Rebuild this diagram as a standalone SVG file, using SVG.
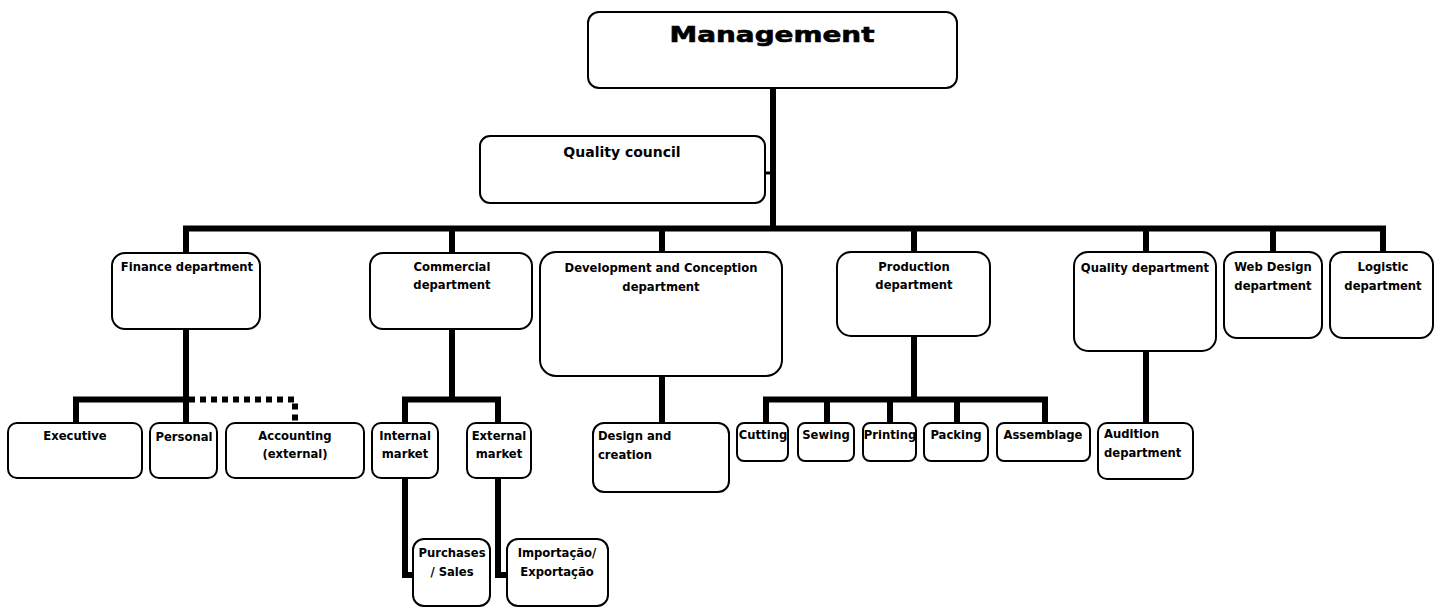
<svg xmlns="http://www.w3.org/2000/svg" width="1445" height="608" viewBox="0 0 1445 608">
<style>
.box{fill:#fff;stroke:#000;stroke-width:2}
.t{font-family:"DejaVu Sans","Liberation Sans",sans-serif;font-weight:bold;font-size:11.6px;fill:#000;text-anchor:middle}
.l{text-anchor:start}
.c{fill:none;stroke:#000;stroke-width:6;stroke-linejoin:miter;stroke-linecap:butt}
.d{fill:none;stroke:#000;stroke-width:6;stroke-dasharray:6 5}
</style>
<rect width="1445" height="608" fill="#fff"/>
<g id="connectors">
<path class="c" d="M773 88V231"/>
<path d="M765 173H773" stroke="#000" stroke-width="3"/>
<path class="c" d="M183 228.5H1386"/>
<path class="c" d="M186 226V253M452 226V253M662 226V252M914 226V252M1146 226V252M1273 226V252M1383 226V252"/>
<path class="c" d="M186 329V423M76 423V399.5H189"/>
<path class="d" d="M189 399.5H295V423"/>
<path class="c" d="M452 329V399.5M405 423V399.5H498V423"/>
<path class="c" d="M405 478V575H413M498 478V575H507"/>
<path class="c" d="M662 376V423"/>
<path class="c" d="M914 336V399.5M766 423V399.5H1045V423M827 399.5V423M890 399.5V423M957 399.5V423"/>
<path class="c" d="M1146 351V423"/>
</g>
<g id="management"><rect class="box" x="588" y="12" width="369" height="76" rx="11"/>
<text x="772" y="42" class="t" style="font-size:21px;stroke:#000;stroke-width:0.6" textLength="205" lengthAdjust="spacingAndGlyphs">Management</text></g>
<g id="quality-council"><rect class="box" x="480" y="136" width="285" height="67" rx="10"/>
<text x="622" y="157" class="t" style="font-size:14px">Quality council</text></g>
<g id="finance"><rect class="box" x="112" y="253" width="148" height="76" rx="13"/>
<text x="187" y="271" class="t">Finance department</text></g>
<g id="commercial"><rect class="box" x="370" y="253" width="162" height="76" rx="13"/>
<text x="452" y="271" class="t">Commercial</text><text x="452" y="289" class="t">department</text></g>
<g id="development"><rect class="box" x="540" y="252" width="242" height="124" rx="16"/>
<text x="661" y="272" class="t">Development and Conception</text><text x="661" y="291" class="t">department</text></g>
<g id="production"><rect class="box" x="837" y="252" width="153" height="84" rx="14"/>
<text x="914" y="271" class="t">Production</text><text x="914" y="289" class="t">department</text></g>
<g id="quality-dept"><rect class="box" x="1074" y="252" width="142" height="99" rx="14"/>
<text x="1145" y="272" class="t">Quality department</text></g>
<g id="webdesign"><rect class="box" x="1224" y="252" width="98" height="86" rx="13"/>
<text x="1273" y="271" class="t">Web Design</text><text x="1273" y="290" class="t">department</text></g>
<g id="logistic"><rect class="box" x="1330" y="252" width="103" height="86" rx="13"/>
<text x="1383" y="271" class="t">Logistic</text><text x="1383" y="290" class="t">department</text></g>
<g id="executive"><rect class="box" x="8" y="423" width="134" height="55" rx="9"/>
<text x="75" y="440" class="t">Executive</text></g>
<g id="personal"><rect class="box" x="150" y="423" width="67" height="55" rx="9"/>
<text x="184" y="441" class="t">Personal</text></g>
<g id="accounting"><rect class="box" x="226" y="423" width="138" height="55" rx="9"/>
<text x="295" y="440" class="t">Accounting</text><text x="295" y="458" class="t">(external)</text></g>
<g id="internal"><rect class="box" x="372" y="423" width="66" height="55" rx="9"/>
<text x="405" y="440" class="t">Internal</text><text x="405" y="458" class="t">market</text></g>
<g id="external"><rect class="box" x="467" y="423" width="64" height="55" rx="9"/>
<text x="499" y="440" class="t">External</text><text x="499" y="458" class="t">market</text></g>
<g id="purchases"><rect class="box" x="413" y="539" width="77" height="67" rx="11"/>
<text x="452" y="557" class="t">Purchases</text><text x="452" y="576" class="t">/ Sales</text></g>
<g id="importacao"><rect class="box" x="507" y="539" width="101" height="67" rx="11"/>
<text x="557" y="557" class="t">Importação/</text><text x="557" y="576" class="t">Exportação</text></g>
<g id="design"><rect class="box" x="593" y="423" width="136" height="69" rx="11"/>
<text x="598" y="440" class="t l">Design and</text><text x="598" y="459" class="t l">creation</text></g>
<g id="cutting"><rect class="box" x="737" y="423" width="51" height="38" rx="7"/>
<text x="763" y="439" class="t">Cutting</text></g>
<g id="sewing"><rect class="box" x="798" y="423" width="56" height="38" rx="7"/>
<text x="826" y="439" class="t">Sewing</text></g>
<g id="printing"><rect class="box" x="863" y="423" width="53" height="38" rx="7"/>
<text x="890" y="439" class="t">Printing</text></g>
<g id="packing"><rect class="box" x="924" y="423" width="64" height="38" rx="7"/>
<text x="956" y="439" class="t">Packing</text></g>
<g id="assemblage"><rect class="box" x="997" y="423" width="93" height="38" rx="7"/>
<text x="1043" y="439" class="t">Assemblage</text></g>
<g id="audition"><rect class="box" x="1098" y="423" width="95" height="56" rx="9"/>
<text x="1104" y="438" class="t l">Audition</text><text x="1104" y="457" class="t l">department</text></g>
</svg>
